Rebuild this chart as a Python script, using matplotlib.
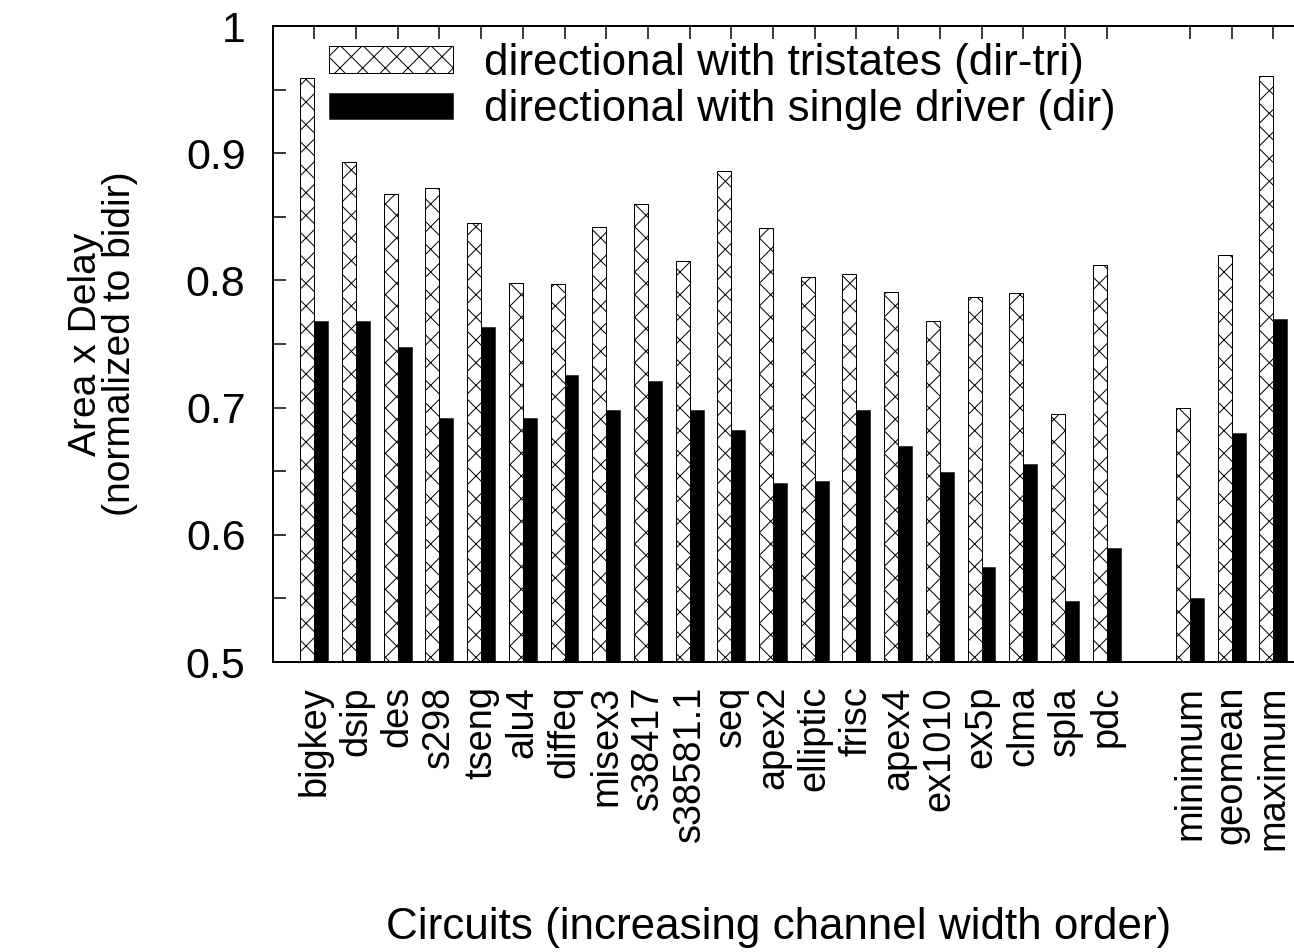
import numpy as np
import matplotlib
matplotlib.use("Agg")
import matplotlib.pyplot as plt
from matplotlib.ticker import FixedLocator, FuncFormatter

# ---- data ----
circuits = ["bigkey", "dsip", "des", "s298", "tseng", "alu4", "diffeq", "misex3",
            "s38417", "s38581.1", "seq", "apex2", "elliptic", "frisc", "apex4",
            "ex1010", "ex5p", "clma", "spla", "pdc"]
summary = ["minimum", "geomean", "maximum"]

dir_tri_circuits = [0.959, 0.893, 0.868, 0.873, 0.845, 0.798, 0.797, 0.842,
                    0.860, 0.815, 0.886, 0.841, 0.803, 0.805, 0.791, 0.768,
                    0.787, 0.790, 0.695, 0.812]
dir_circuits = [0.768, 0.768, 0.748, 0.692, 0.763, 0.692, 0.726, 0.698,
                0.721, 0.698, 0.682, 0.641, 0.642, 0.698, 0.670, 0.649,
                0.575, 0.656, 0.548, 0.590]
dir_tri_summary = [0.700, 0.820, 0.961]
dir_summary = [0.550, 0.680, 0.770]

yticks = [0.5, 0.55, 0.6, 0.65, 0.7, 0.75, 0.8, 0.85, 0.9, 0.95, 1.0]

series_labels = ["directional with tristates (dir-tri)",
                 "directional with single driver (dir)"]

# ---- layout ----
DPI = 68
W, H = 1294, 952


def px(v):
    """pixels -> points at the chosen dpi"""
    return v * 72.0 / DPI


plt.rcParams['font.family'] = ['Liberation Sans', 'DejaVu Sans']
plt.rcParams['hatch.linewidth'] = px(1.0)

fig = plt.figure(figsize=(W / DPI, H / DPI), dpi=DPI)
slot = 41.7
ax_left, ax_top, ax_bottom = 272.6, 26, 662
pos_c = np.arange(len(circuits))
pos_s = len(circuits) + 1 + np.arange(len(summary))
xmin, xmax = -1, len(circuits) + 1 + len(summary)
ax = fig.add_axes([ax_left / W, 1 - ax_bottom / H, (xmax - xmin) * slot / W,
                   (ax_bottom - ax_top) / H])

positions = np.concatenate([pos_c, pos_s])
labels = circuits + summary
tri_vals = np.array(dir_tri_circuits + dir_tri_summary)
dir_vals = np.array(dir_circuits + dir_summary)

bw = 0.335
base = 0.5
b1 = ax.bar(positions - bw / 2, tri_vals - base, width=bw, bottom=base,
            facecolor="white", edgecolor="black", hatch="x", linewidth=px(1.0),
            label=series_labels[0])
b2 = ax.bar(positions + bw / 2, dir_vals - base, width=bw, bottom=base,
            facecolor="black", edgecolor="black", linewidth=px(0.5),
            label=series_labels[1])

ax.set_xlim(xmin, xmax)
ax.set_ylim(0.5, 1.0)

ax.yaxis.set_major_locator(FixedLocator(yticks))
ax.yaxis.set_major_formatter(FuncFormatter(
    lambda v, p: ("%g" % round(v, 2)) if abs(round(v * 10) - v * 10) < 1e-6 else ""))

ax.set_xticks(positions)
ax.set_xticklabels(labels, rotation=90, ha="center", va="top")

ax.tick_params(axis="y", which="both", direction="in", length=px(13), width=px(1.5),
               labelsize=px(43), pad=px(27), right=True, left=True)
ax.tick_params(axis="x", which="both", direction="in", length=px(13), width=px(1.5),
               labelsize=px(38), pad=px(24), top=True, bottom=False)

for s in ax.spines.values():
    s.set_linewidth(px(2))

fs_leg = 44
leg = ax.legend(handles=[b1, b2], loc="upper left",
                bbox_to_anchor=(329 / W, 1 - 43 / H), bbox_transform=fig.transFigure,
                frameon=False, fontsize=px(fs_leg), handlelength=124 / fs_leg,
                handleheight=24 / fs_leg, handletextpad=31 / fs_leg,
                labelspacing=0.12, borderpad=0, borderaxespad=0)

fig.text(779 / W, 1 - 927 / H, "Circuits (increasing channel width order)",
         ha="center", va="center", fontsize=px(44))
fig.text(103 / W, 1 - 344 / H, "Area x Delay\n(normalized to bidir)",
         ha="center", va="center", rotation=90, fontsize=px(39), linespacing=0.9,
         multialignment="center")

fig.savefig("out.png", dpi=DPI)
